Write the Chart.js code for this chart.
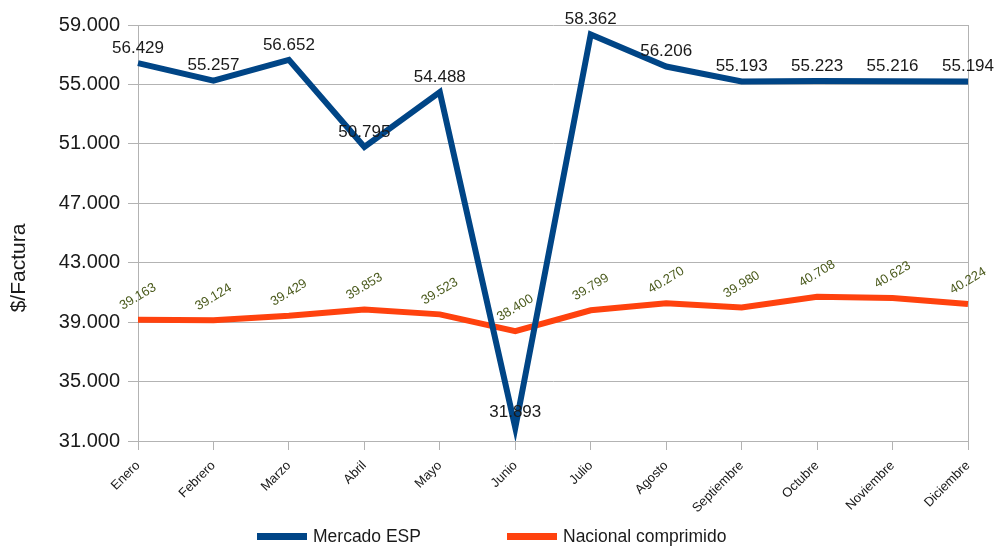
<!DOCTYPE html>
<html>
<head>
<meta charset="utf-8">
<script src="https://cdn.jsdelivr.net/npm/chart.js@4.4.1/dist/chart.umd.min.js"></script>
<style>
html,body{margin:0;padding:0;background:#fff;}
#wrap{width:995px;height:547px;position:relative;}
</style>
</head>
<body>
<div id="wrap"><canvas id="c" width="995" height="547"></canvas></div>
<script>
const categories = ['Enero','Febrero','Marzo','Abril','Mayo','Junio','Julio','Agosto','Septiembre','Octubre','Noviembre','Diciembre'];
const mercadoESP = [56429,55257,56652,50795,54488,31893,58362,56206,55193,55223,55216,55194];
const nacionalComprimido = [39163,39124,39429,39853,39523,38400,39799,40270,39980,40708,40623,40224];
const yMin = 31000, yMax = 59000, yStep = 4000;
const yTitle = '$/Factura';

const FONT = "'Liberation Sans', Arial, sans-serif";
const TEXT = '#1a1a1a';
const fmt = n => String(Math.round(n)).replace(/\B(?=(\d{3})+(?!\d))/g, '.');

const labelPlugin = {
  id: 'valueLabels',
  afterDatasetsDraw(chart) {
    const ctx = chart.ctx;
    chart.data.datasets.forEach((ds, i) => {
      const meta = chart.getDatasetMeta(i);
      meta.data.forEach((pt, j) => {
        const txt = fmt(ds.data[j]);
        ctx.save();
        ctx.textAlign = 'center';
        ctx.textBaseline = 'middle';
        if (i === 0) {
          ctx.font = '17px ' + FONT;
          ctx.fillStyle = TEXT;
          ctx.fillText(txt, pt.x, pt.y - 15);
        } else {
          ctx.font = '13px ' + FONT;
          ctx.fillStyle = '#4a5a1c';
          ctx.translate(pt.x, pt.y - 23);
          ctx.rotate(-31 * Math.PI / 180);
          ctx.fillText(txt, 0, 0);
        }
        ctx.restore();
      });
    });
  }
};

const framePlugin = {
  id: 'frameAndLegend',
  beforeDatasetsDraw(chart) {
    const {ctx, chartArea} = chart;
    ctx.save();
    ctx.strokeStyle = '#b3b3b3';
    ctx.lineWidth = 1;
    ctx.beginPath();
    ctx.moveTo(Math.round(chartArea.right) + 0.5, chartArea.top);
    ctx.lineTo(Math.round(chartArea.right) + 0.5, chartArea.bottom);
    ctx.stroke();
    ctx.restore();
  },
  afterDraw(chart) {
    const ctx = chart.ctx;
    ctx.save();
    ctx.font = '21px ' + FONT;
    ctx.fillStyle = TEXT;
    ctx.textAlign = 'center';
    ctx.textBaseline = 'middle';
    ctx.translate(19, 268);
    ctx.rotate(-Math.PI / 2);
    ctx.fillText(yTitle, 0, 0);
    ctx.restore();
    const starts = [257, 507];
    ctx.save();
    ctx.font = '17.5px ' + FONT;
    ctx.textBaseline = 'middle';
    ctx.textAlign = 'left';
    chart.data.datasets.forEach((ds, i) => {
      const x = starts[i];
      ctx.fillStyle = ds.borderColor;
      ctx.fillRect(x, 533, 50, 7);
      ctx.fillStyle = TEXT;
      ctx.fillText(ds.label, x + 56, 537);
    });
    ctx.restore();
  }
};

new Chart(document.getElementById('c'), {
  type: 'line',
  data: {
    labels: categories,
    datasets: [
      { label: 'Mercado ESP', data: mercadoESP, borderColor: '#004586', backgroundColor: '#004586', borderWidth: 6, pointRadius: 0, tension: 0, borderJoinStyle: 'miter' },
      { label: 'Nacional comprimido', data: nacionalComprimido, borderColor: '#ff420e', backgroundColor: '#ff420e', borderWidth: 6, pointRadius: 0, tension: 0, borderJoinStyle: 'miter' }
    ]
  },
  options: {
    responsive: false,
    animation: false,
    devicePixelRatio: 1,
    layout: { padding: { left: 0, right: 27, top: 25, bottom: 0 } },
    plugins: {
      legend: { display: false },
      tooltip: { enabled: false }
    },
    scales: {
      x: {
        offset: false,
        grid: { display: true, drawOnChartArea: false, drawTicks: true, tickLength: 9, color: '#b3b3b3' },
        border: { color: '#b3b3b3' },
        ticks: { maxRotation: 45, minRotation: 45, color: TEXT, font: { family: FONT, size: 13 }, padding: 8 },
        afterFit(s) { s.height = 106; }
      },
      y: {
        min: yMin, max: yMax,
        ticks: { stepSize: yStep, color: TEXT, font: { family: FONT, size: 20 }, padding: 8, callback: v => fmt(v) },
        grid: { color: '#b3b3b3', tickLength: 10 },
        border: { color: '#b3b3b3' },
        afterFit(s) { s.width = 138; }
      }
    }
  },
  plugins: [framePlugin, labelPlugin]
});
</script>
</body>
</html>
